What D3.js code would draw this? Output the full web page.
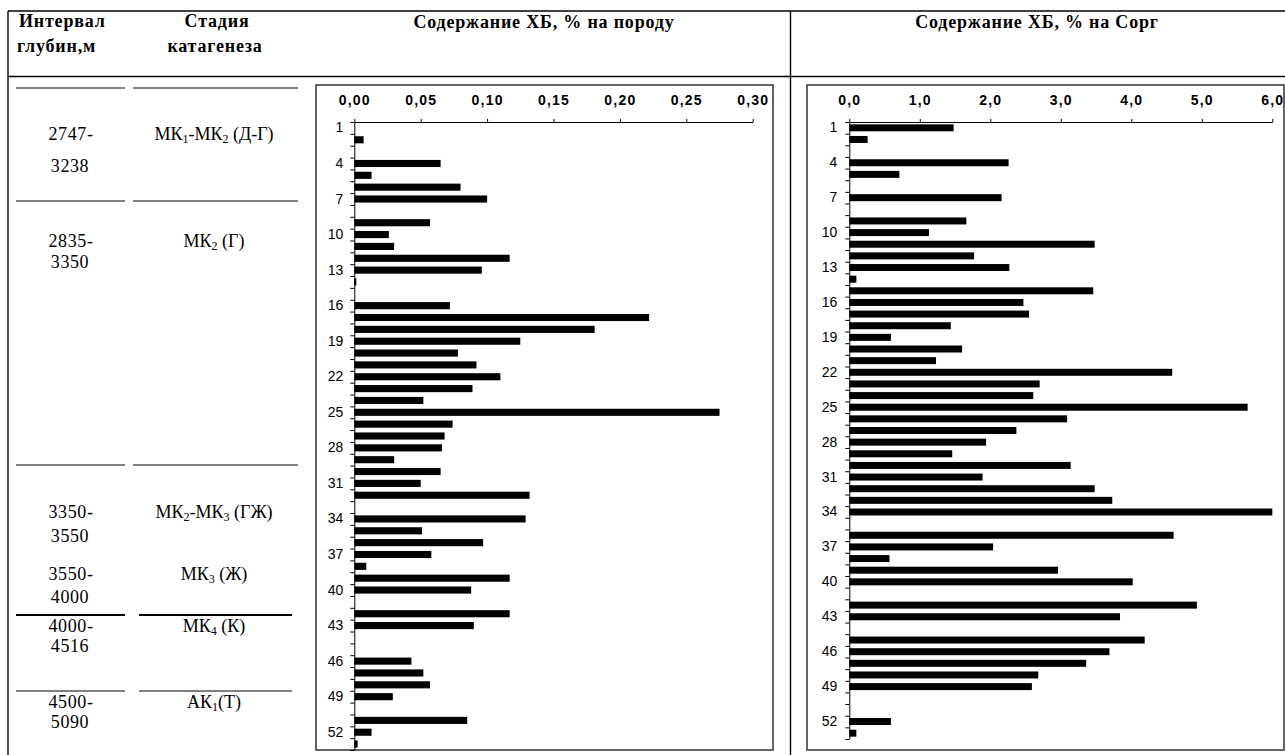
<!DOCTYPE html>
<html>
<head>
<meta charset="utf-8">
<script src="https://cdn.jsdelivr.net/npm/d3@7/dist/d3.min.js"></script>
<style>
  body { margin: 0; background: #fff; }
  .axis text { font-family: "Liberation Sans", Arial, sans-serif; fill: #000; }
  .axis path, .axis line { stroke: #000; }
</style>
</head>
<body>
<div id="chart-area"></div>
<script>
// ---- data ----
const samples = [1,2,3,4,5,6,7,8,9,10,11,12,13,14,15,16,17,18,19,20,21,22,23,24,25,26,27,
  28,29,30,31,32,33,34,35,36,37,38,39,40,41,42,43,44,45,46,47,48,49,50,51,52,53];

// ХБ, % на породу (0 = no bar)
const hbRock = [0,0.007,0,0.065,0.013,0.080,0.100,0,0.057,0.026,0.030,0.117,0.096,0.0015,0,
  0.072,0.222,0.181,0.125,0.078,0.092,0.110,0.089,0.052,0.275,0.074,0.068,0.066,0.030,0.065,
  0.050,0.132,0,0.129,0.051,0.097,0.058,0.009,0.117,0.088,0,0.117,0.090,0,0,0.043,0.052,
  0.057,0.029,0,0.085,0.013,0.0025];

// ХБ, % на Сорг
const hbCorg = [1.48,0.26,0,2.26,0.71,0,2.16,0,1.66,1.13,3.48,1.77,2.27,0.10,3.46,2.47,2.55,
  1.44,0.59,1.60,1.23,4.58,2.70,2.61,5.65,3.09,2.37,1.94,1.46,3.14,1.89,3.48,3.73,6.00,0,
  4.60,2.04,0.57,2.96,4.02,0,4.93,3.84,0,4.19,3.69,3.36,2.68,2.59,0,0,0.59,0.10];

const depthFrom = ["2747-", "2835-", "3350-", "3550-", "4000-", "4500-"];
const depthTo   = ["3238", "3350", "3550", "4000", "4516", "5090"];
// "_n" = subscript digit
const stages = ["МК_1-МК_2 (Д-Г)", "МК_2 (Г)", "МК_2-МК_3 (ГЖ)", "МК_3 (Ж)", "МК_4 (К)", "АК_1(Т)"];

const ticksRock = [0, 0.05, 0.10, 0.15, 0.20, 0.25, 0.30];
const ticksCorg = [0, 1, 2, 3, 4, 5, 6];

// ---- layout ----
const W = 1285, H = 755;
const rowBase = [140, 247, 518, 580, 632, 708];   // baseline of first line in each row
const rowBase2 = [172, 268, 542, 603, 652, 728];  // baseline of second line
const sepY = [88, 201, 465, 615, 691];
const serif = "'Liberation Serif', 'Times New Roman', serif";

const svg = d3.select("#chart-area").append("svg")
  .attr("width", W).attr("height", H);

// table frame
const frame = svg.append("g").attr("stroke", "#000").attr("stroke-width", 1.4);
frame.append("line").attr("x1", 8).attr("x2", W).attr("y1", 11).attr("y2", 11);
frame.append("line").attr("x1", 8).attr("x2", W).attr("y1", 76.5).attr("y2", 76.5);
frame.append("line").attr("x1", 8).attr("x2", 8).attr("y1", 11).attr("y2", H);
frame.append("line").attr("x1", 790.5).attr("x2", 790.5).attr("y1", 11).attr("y2", H);

// header texts
const hdr = svg.append("g").attr("font-family", serif).attr("font-weight", "bold")
  .attr("font-size", 18).attr("letter-spacing", 0.8).attr("fill", "#000");
hdr.append("text").attr("x", 19).attr("y", 27).text("Интервал");
hdr.append("text").attr("x", 17).attr("y", 52).text("глубин,м");
hdr.append("text").attr("x", 217).attr("y", 27).attr("text-anchor", "middle").text("Стадия");
hdr.append("text").attr("x", 215).attr("y", 52).attr("text-anchor", "middle").text("катагенеза");
hdr.append("text").attr("x", 544).attr("y", 28).attr("text-anchor", "middle").text("Содержание ХБ, % на породу");
hdr.append("text").attr("x", 1037).attr("y", 28).attr("text-anchor", "middle").text("Содержание ХБ, % на Сорг");

// left table separators
sepY.forEach((y, i) => {
  const thick = i === 3;
  const g = svg.append("g").attr("stroke", "#000").attr("stroke-width", thick ? 2.2 : 1.2);
  g.append("line").attr("x1", 16).attr("x2", 125).attr("y1", y).attr("y2", y);
  g.append("line").attr("x1", i >= 3 ? 139 : 133).attr("x2", i >= 3 ? 292 : 298).attr("y1", y).attr("y2", y);
});

// left table rows
const rows = svg.append("g").attr("font-family", serif).attr("font-size", 18).attr("fill", "#000");
depthFrom.forEach((d, i) => {
  rows.append("text").attr("x", 71).attr("y", rowBase[i]).attr("letter-spacing", 0.6)
    .attr("text-anchor", "middle").text(d);
  rows.append("text").attr("x", 70).attr("y", rowBase2[i]).attr("letter-spacing", 0.6)
    .attr("text-anchor", "middle").text(depthTo[i]);
  const t = rows.append("text").attr("x", 214).attr("y", rowBase[i]).attr("text-anchor", "middle");
  stages[i].split(/_(\d)/).forEach((part, k) => {
    if (k % 2 === 1) {
      t.append("tspan").attr("font-size", 12).attr("dy", 3).text(part);
    } else if (part) {
      t.append("tspan").attr("dy", k ? -3 : 0).text(part);
    }
  });
});

// ---- bar chart panel ----
function panel(opt) {
  const g = svg.append("g");

  g.append("rect")
    .attr("x", opt.box[0]).attr("y", opt.box[1])
    .attr("width", opt.box[2] - opt.box[0]).attr("height", opt.box[3] - opt.box[1])
    .attr("fill", "none").attr("stroke", "#333").attr("stroke-width", 1.5);

  const x = d3.scaleLinear().domain(opt.domain).range([opt.x0, opt.x1]);
  const y = d3.scaleBand().domain(samples).range([opt.y0, opt.y1])
    .paddingInner(0.4).paddingOuter(0.2);
  const yb = d3.scaleLinear().domain([0, samples.length]).range([opt.y0, opt.y1]);

  // bars
  g.append("g").selectAll("rect")
    .data(samples.map((s, i) => ({ s: s, v: opt.values[i] })).filter(d => d.v > 0))
    .enter().append("rect")
      .attr("x", x(0))
      .attr("y", d => y(d.s))
      .attr("width", d => x(d.v) - x(0))
      .attr("height", y.bandwidth())
      .attr("fill", "#000");

  // x axis (top)
  g.append("g").attr("class", "axis")
    .attr("transform", "translate(0," + opt.y0 + ")")
    .call(d3.axisTop(x).tickValues(opt.ticks).tickSize(3).tickSizeOuter(0).tickPadding(14)
      .tickFormat(d => d3.format(opt.fmt)(d).replace(".", ",")))
    .call(a => a.selectAll("text").attr("font-size", 14).attr("font-weight", "bold")
      .attr("letter-spacing", 1.2));

  // y axis: ticks between categories
  g.append("g").attr("class", "axis")
    .attr("transform", "translate(" + opt.x0 + ",0)")
    .call(d3.axisLeft(yb).tickValues(d3.range(0, samples.length + 1)).tickSize(4)
      .tickSizeOuter(0).tickFormat(""));

  // y labels every third sample
  g.append("g").attr("class", "axis")
    .attr("transform", "translate(" + opt.x0 + ",0)")
    .call(d3.axisLeft(y).tickValues(samples.filter((d, i) => i % 3 === 0))
      .tickSize(0).tickPadding(opt.pad))
    .call(a => a.select(".domain").remove())
    .call(a => a.selectAll("text").attr("font-size", 14));
}

panel({
  box: [316, 85, 773, 750], values: hbRock, domain: [0, 0.30], ticks: ticksRock, fmt: ".2f",
  x0: 354.3, x1: 752.7, y0: 122, y1: 750, pad: 11
});
panel({
  box: [807, 85, 1284, 750], values: hbCorg, domain: [0, 6], ticks: ticksCorg, fmt: ".1f",
  x0: 849.3, x1: 1272.3, y0: 122, y1: 739, pad: 12
});
</script>
</body>
</html>
